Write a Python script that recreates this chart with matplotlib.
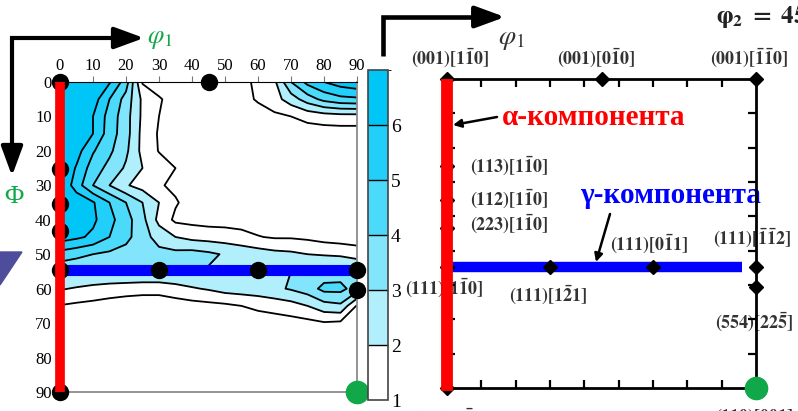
import matplotlib
matplotlib.use('Agg')
import matplotlib as mpl
import matplotlib.pyplot as plt
from matplotlib.colors import ListedColormap, BoundaryNorm
from matplotlib.patches import Polygon
import numpy as np

plt.rcParams['font.family'] = ['Liberation Serif', 'DejaVu Serif']
plt.rcParams['mathtext.fontset'] = 'stix'

# ODF section phi2 = 45 deg, sampled every 5 deg (rows: Phi, cols: phi1)
phi1 = np.arange(0, 91, 5)
Phi = np.arange(0, 91, 5)
odf = np.array([
    [7.0, 7.0, 6.8, 6.1, 4.5, 0.9, 0.5, 0.5, 0.5, 0.5, 0.5, 0.6, 1.3, 1.8, 4.0, 5.3, 6.0, 6.5, 6.8],
    [7.0, 7.0, 6.5, 5.0, 3.6, 1.8, 1.1, 0.6, 0.5, 0.5, 0.5, 0.7, 1.1, 1.6, 2.5, 3.5, 4.3, 4.7, 4.8],
    [7.0, 6.8, 6.0, 4.6, 3.4, 1.8, 1.0, 0.6, 0.5, 0.5, 0.5, 0.5, 0.6, 0.8, 1.0, 1.3, 1.5, 1.6, 1.6],
    [7.0, 6.8, 6.0, 4.5, 3.4, 1.7, 0.9, 0.6, 0.5, 0.5, 0.5, 0.5, 0.5, 0.5, 0.5, 0.5, 0.5, 0.5, 0.5],
    [7.0, 6.4, 5.1, 4.2, 3.2, 1.7, 0.95, 0.6, 0.5, 0.5, 0.5, 0.5, 0.5, 0.5, 0.5, 0.5, 0.5, 0.5, 0.5],
    [7.0, 5.9, 4.5, 3.7, 2.85, 2.0, 1.5, 1.0, 0.6, 0.5, 0.5, 0.5, 0.5, 0.5, 0.5, 0.5, 0.5, 0.5, 0.5],
    [7.0, 5.5, 4.0, 3.0, 2.1, 1.6, 1.1, 0.8, 0.5, 0.5, 0.5, 0.5, 0.5, 0.5, 0.5, 0.5, 0.5, 0.5, 0.5],
    [7.0, 6.7, 6.1, 5.0, 4.0, 3.0, 2.0, 1.1, 0.6, 0.5, 0.5, 0.5, 0.5, 0.5, 0.5, 0.5, 0.5, 0.5, 0.5],
    [7.0, 6.8, 6.2, 5.3, 4.4, 3.3, 1.7, 0.8, 0.7, 0.6, 0.6, 0.6, 0.5, 0.5, 0.5, 0.5, 0.5, 0.5, 0.5],
    [6.5, 6.2, 5.8, 5.0, 4.3, 3.4, 2.6, 2.0, 1.7, 1.6, 1.5, 1.3, 1.05, 0.9, 0.9, 0.8, 0.6, 0.5, 0.5],
    [4.6, 4.3, 4.0, 3.8, 3.6, 3.5, 3.3, 3.3, 3.4, 3.2, 2.9, 2.7, 2.5, 2.3, 2.2, 2.0, 1.9, 1.8, 1.5],
    [3.2, 3.1, 3.1, 3.2, 3.2, 3.2, 3.2, 3.1, 3.0, 2.9, 3.0, 2.9, 2.9, 3.0, 3.0, 3.2, 3.4, 3.5, 3.3],
    [2.1, 1.9, 1.7, 1.5, 1.4, 1.3, 1.3, 1.6, 1.9, 2.1, 2.4, 2.5, 2.6, 2.8, 3.1, 3.5, 4.3, 4.3, 3.5],
    [0.95, 0.8, 0.7, 0.6, 0.5, 0.5, 0.5, 0.5, 0.6, 0.7, 0.8, 1.0, 1.2, 1.4, 1.6, 2.0, 2.6, 2.8, 0.9],
    [0.5, 0.5, 0.5, 0.5, 0.5, 0.5, 0.5, 0.5, 0.5, 0.5, 0.5, 0.5, 0.5, 0.5, 0.6, 0.7, 0.9, 0.8, 0.5],
    [0.5] * 19,
    [0.5] * 19,
    [0.5] * 19,
    [0.5] * 19,
])

fill_levels = [0, 2, 3, 4, 5, 6, 8]
line_levels = [1, 2, 3, 4, 5, 6]
bar_bounds = [1, 2, 3, 4, 5, 6, 7]
fill_colors = ['white', '#b2effd', '#82e5fc', '#4cdafa', '#22cffa', '#00c6f8']

# ideal orientations (phi1, Phi)
dots_phi1 = [0, 45, 0, 0, 0, 0, 30, 60, 90, 90, 0, 90]
dots_Phi = [0, 0, 25.2, 35.3, 43.3, 54.7, 54.7, 54.7, 54.7, 60.5, 90, 90]
diam_phi1 = [0, 45, 90, 0, 0, 0, 0, 30, 60, 90, 90, 0]
diam_Phi = [0, 0, 0, 25.2, 35.3, 43.3, 54.7, 54.7, 54.7, 54.7, 60.5, 90]
green_pt = (90, 90)
alpha_phi1, alpha_Phi = [0, 0], [0, 90]
alpha_Phi_right = [0, 91]
gamma_phi1, gamma_Phi = [0, 90], [54.7, 54.7]
gamma_phi1_right = [0, 86]

W, H = 798, 411
fig = plt.figure(figsize=(W / 100, H / 100), dpi=100)


def px_axes(x0, y0, x1, y1, **kw):
    return fig.add_axes([x0 / W, 1 - y1 / H, (x1 - x0) / W, (y1 - y0) / H], **kw)


# overlay for arrows and captions
ov = px_axes(0, 0, W, H, zorder=0)
ov.set_xlim(0, W)
ov.set_ylim(H, 0)
ov.axis('off')

# ---- left: ODF section ----
ax1 = px_axes(60, 82, 357, 392, zorder=1)
ax1.contourf(phi1, Phi, odf, levels=fill_levels, colors=fill_colors)
ax1.contour(phi1, Phi, odf, levels=line_levels, colors='black', linewidths=1.3)
ax1.set_xlim(0, 90)
ax1.set_ylim(90, 0)
ax1.xaxis.tick_top()
ax1.set_xticks(range(0, 91, 10))
ax1.set_yticks(range(0, 91, 10))
ax1.tick_params(axis='x', direction='out', length=4, color='#777777', pad=2, labelsize=12)
ax1.tick_params(axis='y', length=0, pad=6, labelsize=12)
ax1.spines['top'].set_color('black')
for s in ['right', 'bottom']:
    ax1.spines[s].set_color('#8a8a8a')
    ax1.spines[s].set_linewidth(1.3)
ax1.spines['left'].set_visible(False)
ax1.plot(gamma_phi1, gamma_Phi, color='#0000ff', lw=8, solid_capstyle='butt', zorder=3, clip_on=False)
ax1.plot(dots_phi1, dots_Phi, 'o', color='black', ms=11.5, zorder=4, clip_on=False)
ax1.plot(alpha_phi1, alpha_Phi, color='#ff0000', lw=7, solid_capstyle='butt', zorder=5, clip_on=False)
ax1.plot(*green_pt, 'o', color='#11a84a', ms=16, zorder=6, clip_on=False)

# colour bar
cax = px_axes(368, 70, 388, 400, zorder=1)
cmap = ListedColormap(fill_colors)
norm = BoundaryNorm(bar_bounds, cmap.N)
cb = mpl.colorbar.ColorbarBase(cax, cmap=cmap, norm=norm, ticks=bar_bounds[:-1], drawedges=True)
cb.outline.set_edgecolor('#444444')
cb.outline.set_linewidth(1.2)
cb.dividers.set_color('black')
cb.dividers.set_linewidth(1.0)
cax.tick_params(length=0, pad=2, labelsize=14)

# ---- right: ideal orientation map ----
ax2 = px_axes(447, 79, 756, 388, zorder=1)
ax2.patch.set_alpha(0)
ax2.set_xlim(0, 90)
ax2.set_ylim(90, 0)
ax2.set_xticks(range(10, 90, 10))
ax2.set_yticks(range(10, 90, 10))
ax2.tick_params(direction='in', top=True, bottom=True, left=True, right=True,
                length=6, width=1.6, labelbottom=False, labelleft=False)
for s in ax2.spines.values():
    s.set_linewidth(2)
ax2.plot(gamma_phi1_right, gamma_Phi, color='#0000ff', lw=7.5, solid_capstyle='butt', zorder=3, clip_on=False)
ax2.plot(diam_phi1, diam_Phi, 'D', color='black', ms=7, zorder=4, clip_on=False)
ax2.plot(alpha_phi1, alpha_Phi_right, color='#ff0000', lw=8.5, solid_capstyle='butt', zorder=5, clip_on=False)
ax2.plot(*green_pt, 'o', color='#11a84a', ms=16, zorder=6, clip_on=False)

# axis arrows
head = '-|>,head_length=0.6,head_width=0.22'
ov.plot([12, 12, 135], [165, 38, 38], color='black', lw=3, solid_joinstyle='miter', solid_capstyle='butt')
ov.annotate('', xy=(144, 38), xytext=(125, 38),
            arrowprops=dict(arrowstyle=head, color='black', lw=3, mutation_scale=30, shrinkA=0, shrinkB=0))
ov.annotate('', xy=(12, 176), xytext=(12, 155),
            arrowprops=dict(arrowstyle=head, color='black', lw=3, mutation_scale=30, shrinkA=0, shrinkB=0))
ov.plot([383, 383, 495], [56, 17, 17], color='black', lw=3.3, solid_joinstyle='miter', solid_capstyle='butt')
ov.annotate('', xy=(505, 17), xytext=(485, 17),
            arrowprops=dict(arrowstyle=head, color='black', lw=3.3, mutation_scale=30, shrinkA=0, shrinkB=0))

ov.text(147, 40, r'$\varphi_1$', color='#11a84a', fontsize=19, va='center', ha='left')
ov.text(14, 197, 'Φ', color='#11a84a', fontsize=19, va='center', ha='center')
ov.text(498, 40, r'$\varphi_1$', color='#333333', fontsize=20, va='center', ha='left')
ov.text(716, 18, r'$\mathbf{\varphi_2\ =\ 45^{\circ}}$', color='#222222', fontsize=18, va='center', ha='left')

ov.add_patch(Polygon([(0, 252), (22, 252), (0, 285)], closed=True, color='#4d4d9c'))

lab = dict(color='#333333', fontsize=13, va='center')
ov.text(450, 58, r'$\mathbf{(001)[1\bar{1}0]}$', ha='center', **lab)
ov.text(596, 58, r'$\mathbf{(001)[0\bar{1}0]}$', ha='center', **lab)
ov.text(749, 58, r'$\mathbf{(001)[\bar{1}\bar{1}0]}$', ha='center', **lab)
ov.text(470, 166, r'$\mathbf{(113)[1\bar{1}0]}$', ha='left', **lab)
ov.text(470, 199, r'$\mathbf{(112)[1\bar{1}0]}$', ha='left', **lab)
ov.text(470, 224, r'$\mathbf{(223)[1\bar{1}0]}$', ha='left', **lab)
ov.text(610, 244, r'$\mathbf{(111)[0\bar{1}1]}$', ha='left', **lab)
ov.text(713, 238, r'$\mathbf{(111)[\bar{1}\bar{1}2]}$', ha='left', **lab)
ov.text(405, 288, r'$\mathbf{(111)[1\bar{1}0]}$', ha='left', **lab)
ov.text(509, 295, r'$\mathbf{(111)[1\bar{2}1]}$', ha='left', **lab)
ov.text(715, 322, r'$\mathbf{(554)[22\bar{5}]}$', ha='left', **lab)
ov.text(410, 407, r'$\mathbf{(110)[1\bar{1}0]}$', ha='left', va='top', color='#333333', fontsize=13)
ov.text(715, 407, r'$\mathbf{(110)[001]}$', ha='left', va='top', color='#333333', fontsize=13)

ov.text(502, 117, 'α-компонента', color='#ff0000', fontsize=21, fontweight='bold', va='center', ha='left')
ov.text(580, 195, 'γ-компонента', color='#0000ff', fontsize=21, fontweight='bold', va='center', ha='left')
ov.annotate('', xy=(453, 125), xytext=(497, 117),
            arrowprops=dict(arrowstyle='-|>', color='black', lw=1.8, mutation_scale=12, shrinkA=0, shrinkB=0))
ov.annotate('', xy=(596, 262), xytext=(610, 214),
            arrowprops=dict(arrowstyle='-|>', color='black', lw=1.8, mutation_scale=12, shrinkA=0, shrinkB=0))

fig.savefig('out.png', dpi=100, facecolor='white')
